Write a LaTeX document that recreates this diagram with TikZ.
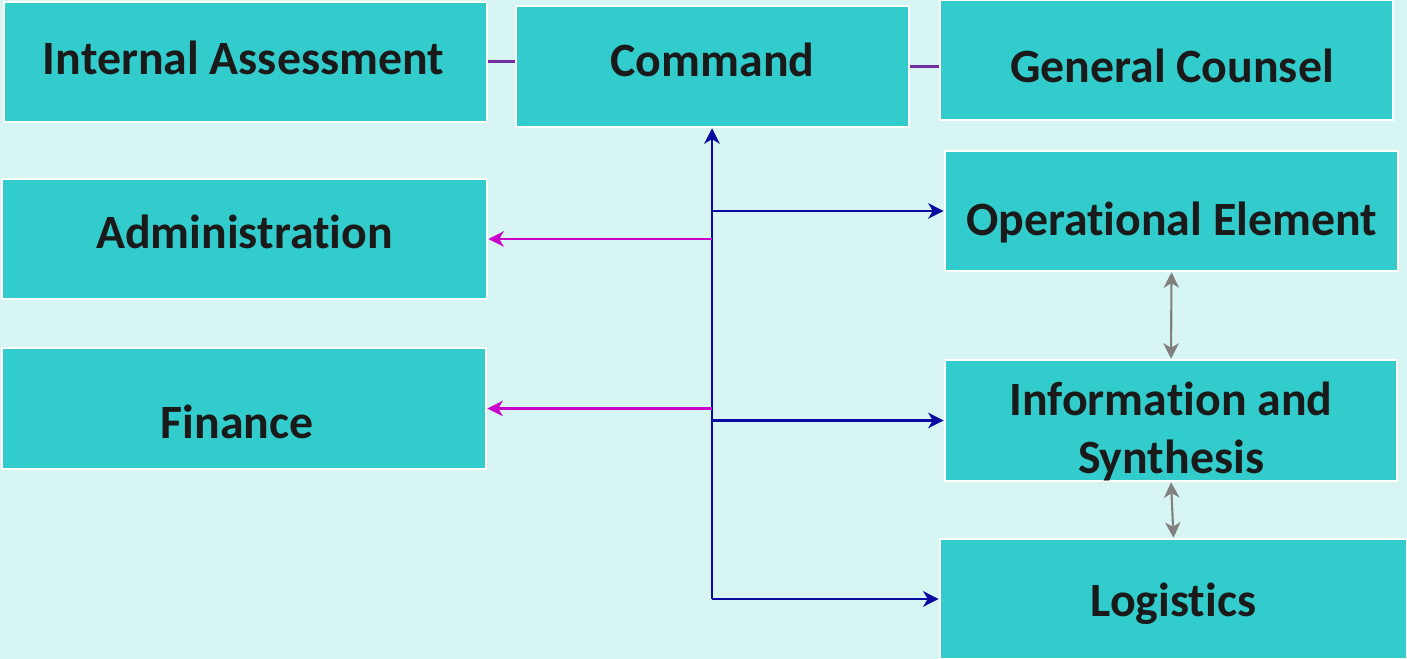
\documentclass[tikz,border=0pt]{standalone}
\usepackage{fontspec}
\setmainfont{Carlito}[Ligatures=NoCommon]
\usetikzlibrary{arrows.meta}
\definecolor{bgcol}{HTML}{D6F5F3}
\definecolor{boxcol}{HTML}{33CCCC}
\definecolor{txtcol}{HTML}{1A1A1A}
\definecolor{blueline}{HTML}{0A0AA0}
\definecolor{magline}{HTML}{CC00CC}
\definecolor{violine}{HTML}{7030A0}
\tikzset{unit/.style = {rectangle, draw=white, line width=0.7pt, fill=boxcol, inner sep=0pt}}
\tikzset{tag/.style = {text=txtcol, font=\fontsize{13.6}{16.3}\selectfont\bfseries, inner sep=0pt}}
\tikzset{tagline/.style = {tag, text height=0.32cm, text depth=0pt}}
\tikzset{ctip/.tip = {Stealth[length=4.4pt,width=4.4pt,inset=1.3pt]}}
\tikzset{cmdline/.style = {blueline, line width=0.6pt, -ctip}}
\tikzset{staffline/.style = {magline, line width=0.6pt, -ctip}}
\tikzset{peerline/.style = {gray, line width=0.6pt, ctip-ctip}}
\begin{document}
\begin{tikzpicture}[x=0.01cm, y=-0.01cm]
                    \fill[bgcol] (0,0) rectangle (1407,659);
                    \useasboundingbox (0,0) rectangle (1407,659);

                    \node[unit, minimum width=4.83cm, minimum height=1.2cm,
                      label={[tagline, yshift=0.035cm, xshift=-0.02cm]center:Internal Assessment}] (ia) at (245.5,62) {};
                    \node[unit, minimum width=3.93cm, minimum height=1.21cm,
                      label={[tagline, yshift=0.055cm]center:Command}] (cmd) at (712.5,66.5) {};
                    \node[unit, minimum width=4.53cm, minimum height=1.2cm,
                      label={[tagline, yshift=-0.065cm, xshift=0.055cm]center:General Counsel}] (gc) at (1166.5,60) {};
                    \node[unit, minimum width=4.85cm, minimum height=1.2cm,
                      label={[tagline, yshift=0.065cm]center:Administration}] (adm) at (244.5,239) {};
                    \node[unit, minimum width=4.84cm, minimum height=1.21cm,
                      label={[tagline, yshift=-0.135cm, xshift=-0.07cm]center:Finance}] (fin) at (244,408.5) {};
                    \node[unit, minimum width=4.53cm, minimum height=1.2cm,
                      label={[tagline, yshift=-0.08cm]center:Operational Element}] (opel) at (1171.5,211) {};
                    \node[unit, minimum width=4.52cm, minimum height=1.21cm,
                      label={[tag, align=center, yshift=-0.11cm]center:Information and\\Synthesis}] (info) at (1171,420.5) {};
                    \node[unit, minimum width=4.67cm, minimum height=1.2cm,
                      label={[tagline, yshift=-0.01cm]center:Logistics}] (logi) at (1173.5,599) {};

                    \coordinate (hub) at (712,599);

                    \draw[violine, line width=0.85pt] (ia.east) -- (ia.east -| cmd.west);
                    \draw[violine, line width=0.85pt] (cmd.east) -- (cmd.east -| gc.west);

                    \draw[cmdline] (hub) -- (hub |- cmd.south);
                    \draw[cmdline] (hub |- opel.west) -- (opel.west);
                    \draw[cmdline] (hub |- info.west) -- (info.west);
                    \draw[cmdline] (hub) -- (logi.west);
                    \draw[staffline] (hub |- adm.east) -- (adm.east);
                    \draw[staffline] (hub |- fin.east) -- (fin.east);

                    \draw[peerline] (opel.south) -- (info.north);
                    \draw[peerline] (info.south) -- (logi.north);
                  \end{tikzpicture}
\end{document}
